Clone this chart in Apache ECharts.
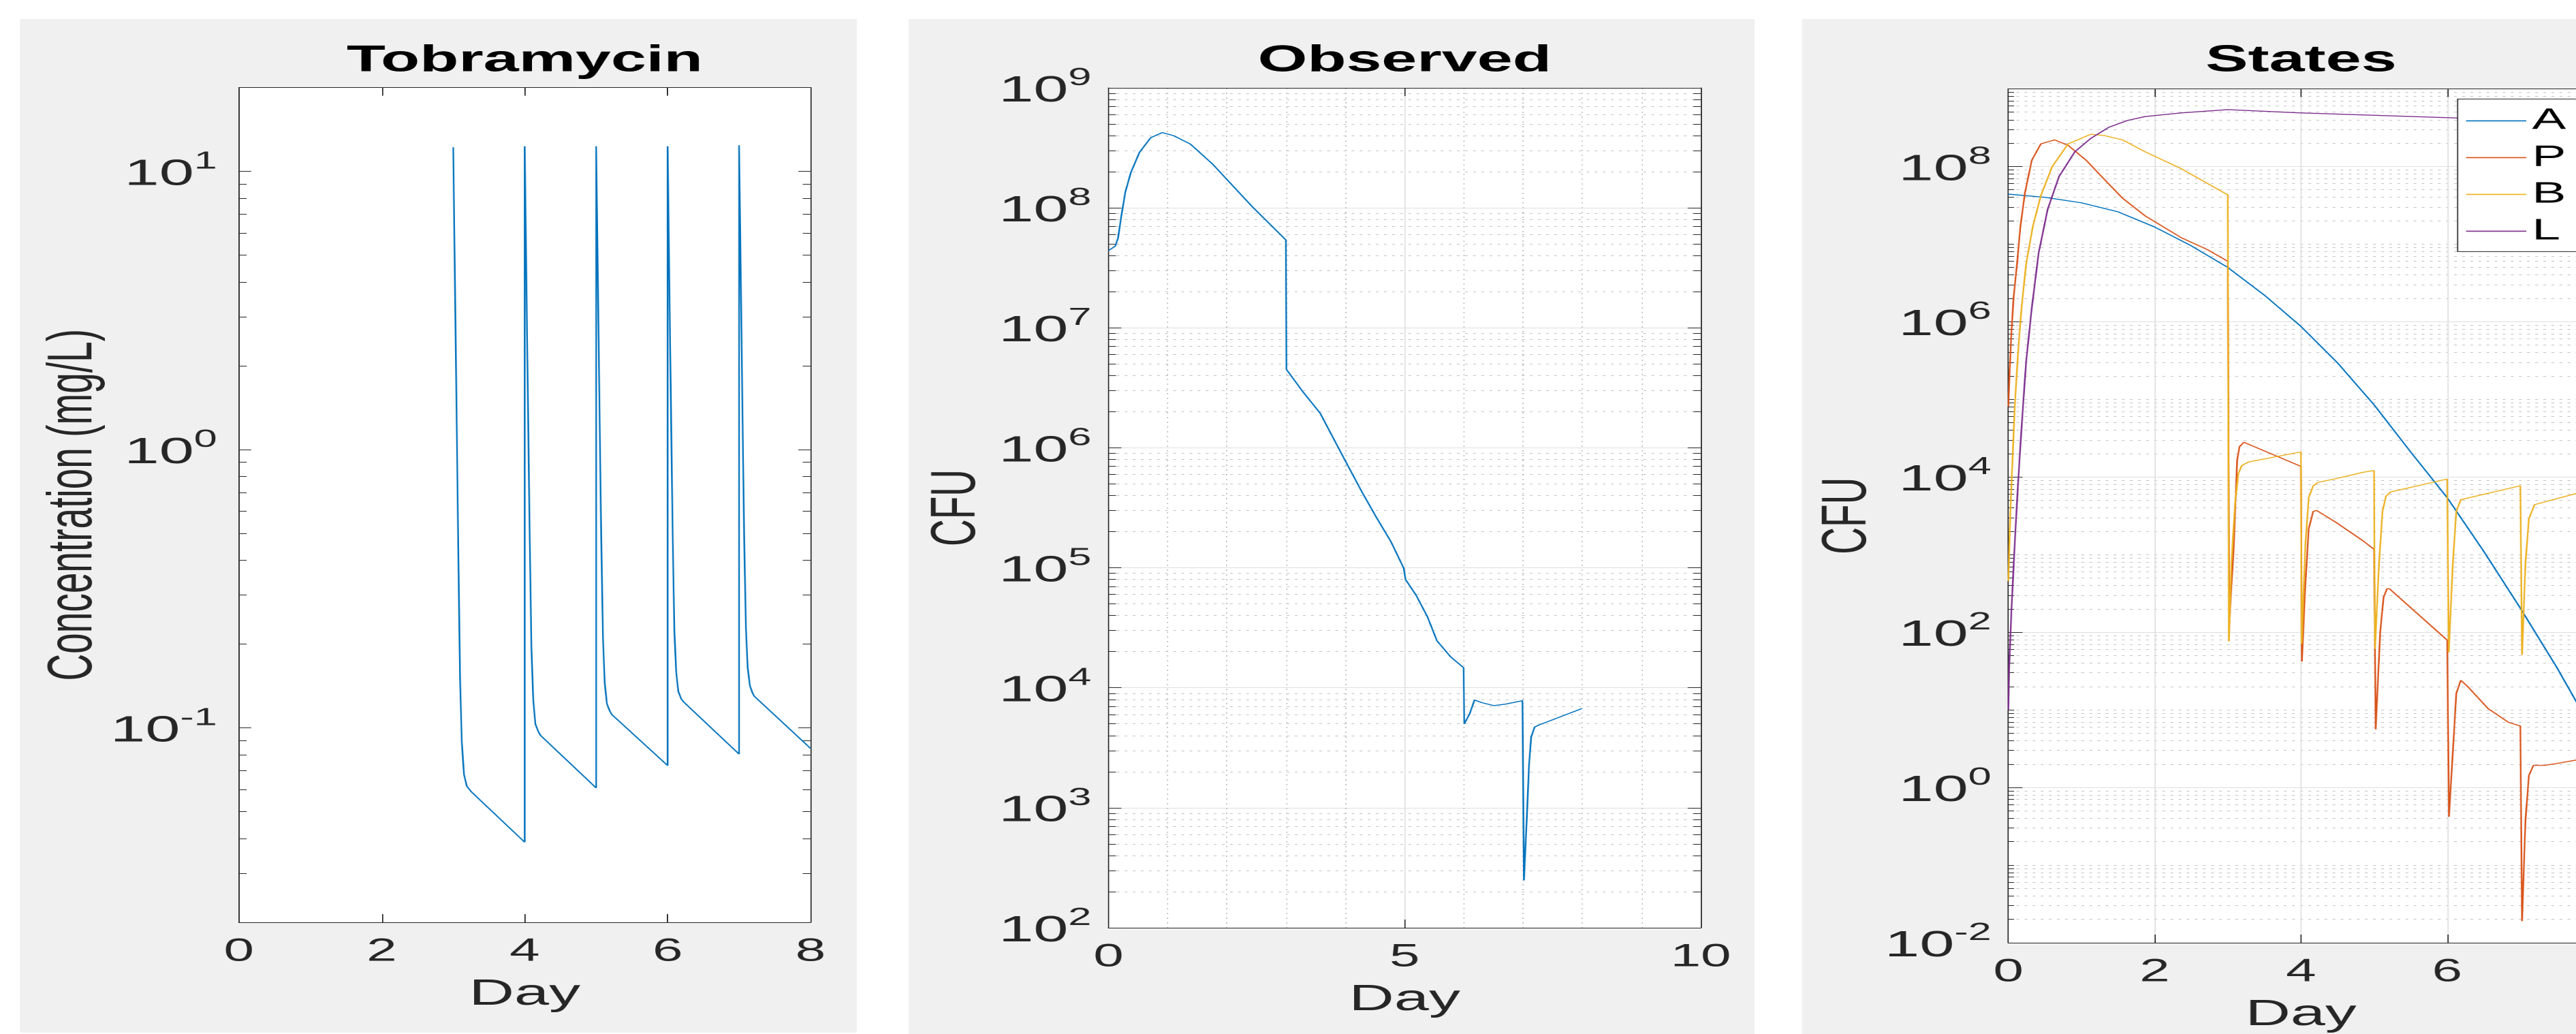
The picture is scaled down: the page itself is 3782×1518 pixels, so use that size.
<!DOCTYPE html>
<html>
<head>
<meta charset="utf-8">
<script src="https://cdn.jsdelivr.net/npm/echarts@6/dist/echarts.min.js"></script>
<style>
html,body{margin:0;padding:0;background:#fff;overflow:hidden;width:3782px;height:1518px;}
#chart{position:absolute;left:0;top:0;width:2225px;height:1518px;transform-origin:0 0;transform:scaleX(1.69978);}
</style>
</head>
<body>
<div id="chart"></div>
<script>
// ---------------- DATA ----------------
// Panel 1: Tobramycin concentration (mg/L) vs day
const tobraDay = [3.00,3.04,3.07,3.095,3.12,3.15,3.19,3.25,4.00,
                  4.00,4.04,4.07,4.095,4.12,4.15,4.19,4.22,5.00,
                  5.00,5.04,5.07,5.095,5.12,5.15,5.19,5.22,6.00,
                  6.00,6.04,6.07,6.095,6.12,6.15,6.19,6.23,7.00,
                  7.00,7.04,7.07,7.095,7.12,7.15,7.185,7.21,8.00];
const tobraConc = [12.2,1.85,0.45,0.15,0.089,0.068,0.0617,0.059,0.0388,
                   12.3,1.9,0.48,0.19,0.125,0.103,0.097,0.094,0.0608,
                   12.3,1.9,0.5,0.21,0.145,0.122,0.115,0.1115,0.0732,
                   12.3,1.9,0.5,0.22,0.158,0.135,0.127,0.1234,0.0804,
                   12.4,1.9,0.5,0.23,0.165,0.142,0.134,0.130,0.0843];

// Panel 2: Observed CFU vs day
const obsDay = [0,0.115,0.162,0.22,0.286,0.38,0.524,0.715,0.906,1.097,1.383,1.764,2.43,2.995,3.005,3.29,3.575,4.004,4.29,4.53,4.767,4.986,5.015,5.195,5.386,5.547,5.777,5.996,6.007,6.045,6.10,6.18,6.314,6.505,6.697,6.99,7.015,7.06,7.10,7.137,7.195,7.27,7.99];
const obsCFU = [4.4e7,4.8e7,5.6e7,8.7e7,1.36e8,1.98e8,2.9e8,3.85e8,4.24e8,4.0e8,3.4e8,2.3e8,1.02e8,5.4e7,4.5e6,2.9e6,1.94e6,7.7e5,4.2e5,2.6e5,1.66e5,9.9e4,8.0e4,5.9e4,3.9e4,2.46e4,1.81e4,1.47e4,5.0e3,4.9e3,6.1e3,7.9e3,7.5e3,7.1e3,7.3e3,7.8e3,248,752,2.24e3,3.9e3,4.7e3,4.9e3,6.7e3];

// Panel 3: States (CFU) vs day
const stateADay = [0,0.5,1.0,1.5,2.0,2.5,3.0,3.5,4.0,4.5,5.0,5.5,6.0,6.5,7.0,7.5,8.0];
const stateA = [4.4e7,4.0e7,3.4e7,2.6e7,1.66e7,9.5e6,5.0e6,2.2e6,8.7e5,2.95e5,8.5e4,2.1e4,5.4e3,1.1e3,204,35,5.2];

const statePDay = [0,0.016,0.04,0.072,0.118,0.165,0.227,0.32,0.444,0.63,0.817,1.064,1.313,1.561,1.872,2.37,2.72,3.0,
                   3.02,3.082,3.128,3.16,3.22,4.0,
                   4.013,4.06,4.106,4.168,4.215,4.479,4.851,5.0,
                   5.022,5.084,5.13,5.177,5.21,6.0,
                   6.024,6.077,6.124,6.186,6.279,6.558,6.837,7.0,
                   7.023,7.07,7.117,7.179,7.334,7.489,7.756,8.0];
const stateP = [8.1e4,2.2e5,6.8e5,2.1e6,5.5e6,1.7e7,4.6e7,1.2e8,1.95e8,2.2e8,1.87e8,1.2e8,6.8e7,3.9e7,2.3e7,1.2e7,8.5e6,6.0e6,
                126,1.3e3,1.66e4,2.45e4,2.8e4,1.37e4,
                42,400,2.15e3,3.6e3,3.7e3,2.6e3,1.5e3,1.17e3,
                5.6,102,282,363,363,79,
                0.42,2.9,16.3,24,20,10.4,6.9,6.2,
                0.019,0.38,1.43,1.93,1.93,2.03,2.25,2.7];

const stateBDay = [0,0.01,0.025,0.056,0.087,0.133,0.18,0.242,0.335,0.444,0.6,0.817,1.127,1.313,1.561,1.872,2.37,3.0,
                   3.015,3.05,3.098,3.144,3.19,3.284,4.0,
                   4.01,4.06,4.106,4.168,4.23,4.479,4.851,5.0,
                   5.012,5.068,5.115,5.161,5.223,6.0,
                   6.021,6.077,6.124,6.186,7.0,
                   7.023,7.07,7.117,7.194,7.756,8.0];
const stateB = [457,1.0e3,3.2e3,1.6e4,8.1e4,4.1e5,1.5e6,5.5e6,1.7e7,4.2e7,1.0e8,1.95e8,2.6e8,2.5e8,2.2e8,1.54e8,9.3e7,4.3e7,
                76,780,4.4e3,1.1e4,1.4e4,1.56e4,2.1e4,
                71,1.3e3,5.4e3,7.7e3,8.5e3,9.5e3,1.15e4,1.21e4,
                61,780,3.6e3,5.6e3,6.4e3,9.4e3,
                55,780,3.6e3,5.1e3,7.7e3,
                51,780,2.9e3,4.4e3,6.1e3,6.9e3];

const stateLDay = [0,0.01,0.04,0.087,0.133,0.18,0.242,0.32,0.413,0.537,0.692,0.91,1.127,1.375,1.623,1.872,2.37,3.0,3.98,6.16,8.0];
const stateL = [10,34,174,1.4e3,8.5e3,4.3e4,3.0e5,1.5e6,7.6e6,2.8e7,7.4e7,1.55e8,2.3e8,3.2e8,3.9e8,4.4e8,4.9e8,5.4e8,4.9e8,4.2e8,3.6e8];

const stateNames = ['A','P','B','L'];
const stateColors = ['#0072BD','#D95319','#EDB120','#7E2F8E'];

// Axis ticks / labels
const tobraYLabels = [0.1, 1, 10];
const obsYLabels = [1e2,1e3,1e4,1e5,1e6,1e7,1e8,1e9];
const statesYLabels = [1e-2,1,1e2,1e4,1e6,1e8];
const statesOddDecades = [1e-1,1e1,1e3,1e5,1e7,1e9];

const titles = ['Tobramycin','Observed','States'];
const yNames = ['Concentration (mg/L)','CFU','CFU'];
const xName = 'Day';

// ---------------- HELPERS ----------------
const FONT = '"Liberation Sans", Arial, Helvetica, sans-serif';
const AX = '#262626';
const MAJOR_GRID = '#dfdfdf';
const MINOR_GRID = '#c2c2c2';

function zip(xs, ys){ return xs.map((x,i)=>[x, ys[i]]); }
function minorTicks(minExp, maxExp, lo, hi){
  const out = [];
  for (let e = minExp; e <= maxExp; e++) {
    for (let m = 2; m <= 9; m++) {
      const v = parseFloat((m * Math.pow(10, e)).toPrecision(6));
      if (v >= lo * 0.9999 && v <= hi * 1.0001) out.push(v);
    }
  }
  return out;
}
function supFmt(v){
  const e = Math.round(Math.log10(v));
  return '{b|10}{s|' + e + '}';
}

function xAxes(gi, min, max, interval, grid, minorGrid){
  const line = { show: true, onZero: false, lineStyle: { color: AX, width: 1 } };
  const tick = { show: true, inside: true, length: 12, lineStyle: { color: AX, width: 1 } };
  return [
    { gridIndex: gi, type: 'value', min, max, interval, position: 'bottom',
      axisLine: line, axisTick: tick,
      axisLabel: { fontSize: 47, margin: 20, color: AX, fontFamily: FONT },
      name: xName, nameLocation: 'middle', nameGap: 79,
      nameTextStyle: { fontSize: 54, color: AX, fontFamily: FONT },
      splitLine: { show: grid, lineStyle: { color: MAJOR_GRID, width: 1 } },
      minorTick: { show: false, splitNumber: 5 },
      minorSplitLine: { show: minorGrid, lineStyle: { color: MINOR_GRID, width: 1, type: [2, 5] } } },
    { gridIndex: gi, type: 'value', min, max, interval, position: 'top',
      axisLine: line, axisTick: tick, axisLabel: { show: false },
      splitLine: { show: false } }
  ];
}

function yAxes(gi, min, max, major, labels, minor, o){
  const tickStyle = { color: AX, width: 1 };
  return [
    { gridIndex: gi, type: 'log', logBase: 10, min, max, position: 'left',
      axisLine: { show: true, lineStyle: { color: AX, width: 1 } },
      axisTick: { show: true, inside: true, length: o.majLen, customValues: major, lineStyle: tickStyle },
      axisLabel: { show: true, customValues: labels, margin: o.labelMargin, formatter: supFmt,
        rich: {
          b: { fontSize: 54, fontFamily: FONT, color: AX, padding: [10, 0, 0, 0] },
          s: { fontSize: 36, fontFamily: FONT, color: AX, verticalAlign: 'top' }
        } },
      splitLine: { show: o.grid, lineStyle: { color: MAJOR_GRID, width: 1 } },
      name: o.name, nameLocation: 'middle', nameGap: o.nameGap,
      nameTextStyle: { fontSize: 55, color: AX, fontFamily: FONT } },
    { gridIndex: gi, type: 'log', logBase: 10, min, max, position: 'left',
      axisLine: { show: false },
      axisTick: { show: true, inside: true, length: o.minLen, customValues: minor, lineStyle: tickStyle },
      axisLabel: { show: false },
      splitLine: { show: o.grid, lineStyle: { color: MINOR_GRID, width: 1, type: [2.4, 4.6] } } },
    { gridIndex: gi, type: 'log', logBase: 10, min, max, position: 'right',
      axisLine: { show: true, lineStyle: { color: AX, width: 1 } },
      axisTick: { show: true, inside: true, length: o.majLen, customValues: major, lineStyle: tickStyle },
      axisLabel: { show: false }, splitLine: { show: false } },
    { gridIndex: gi, type: 'log', logBase: 10, min, max, position: 'right',
      axisLine: { show: false },
      axisTick: { show: true, inside: true, length: o.minLen, customValues: minor, lineStyle: tickStyle },
      axisLabel: { show: false }, splitLine: { show: false } }
  ];
}

function lineSeries(name, xi, yi, data, color){
  return { type: 'line', name, xAxisIndex: xi, yAxisIndex: yi, data,
    showSymbol: false, symbol: 'none', smooth: false, silent: true, animation: false,
    lineStyle: { color, width: 1.4 }, itemStyle: { color } };
}

// ---------------- LAYOUT (unscaled px; page is stretched horizontally) ----------------
const grids = [
  { left: 206.3, top: 128.5, width: 493.8, height: 1225.5 },
  { left: 957.4, top: 129,   width: 511.6, height: 1233 },
  { left: 1734.7, top: 130.4, width: 505.4, height: 1253.6 }
];
const titleX = [453.2, 1213.2, 1987.5];

const xAxis = [].concat(
  xAxes(0, 0, 8, 2, false, false),
  xAxes(1, 0, 10, 5, true, true),
  xAxes(2, 0, 8, 2, true, false)
);
const yAxis = [].concat(
  yAxes(0, 0.02, 20, tobraYLabels, tobraYLabels, minorTicks(-2, 1, 0.02, 20),
        { majLen: 10.6, minLen: 6.8, labelMargin: 18.8, grid: false, name: yNames[0], nameGap: 106 }),
  yAxes(1, 1e2, 1e9, obsYLabels, obsYLabels, minorTicks(2, 8, 1e2, 1e9),
        { majLen: 11.2, minLen: 6.4, labelMargin: 14.7, grid: true, name: yNames[1], nameGap: 103 }),
  yAxes(2, 1e-2, 1e9, statesYLabels, statesYLabels,
        minorTicks(-2, 8, 1e-2, 1e9).concat(statesOddDecades).sort((a,b)=>a-b),
        { majLen: 12.2, minLen: 4.9, labelMargin: 14.7, grid: true, name: yNames[2], nameGap: 111 })
);

const series = [
  lineSeries('Tobramycin', 0, 0, zip(tobraDay, tobraConc), '#0072BD'),
  lineSeries('Observed', 2, 4, zip(obsDay, obsCFU), '#0072BD'),
  lineSeries(stateNames[0], 4, 8, zip(stateADay, stateA), stateColors[0]),
  lineSeries(stateNames[1], 4, 8, zip(statePDay, stateP), stateColors[1]),
  lineSeries(stateNames[2], 4, 8, zip(stateBDay, stateB), stateColors[2]),
  lineSeries(stateNames[3], 4, 8, zip(stateLDay, stateL), stateColors[3])
];

const option = {
  animation: false,
  backgroundColor: 'transparent',
  graphic: [
    { type: 'rect', z: -100, silent: true, shape: { x: 17.1, y: 28, width: 723, height: 1488 }, style: { fill: '#f0f0f0' } },
    { type: 'rect', z: -100, silent: true, shape: { x: 784.7, y: 28, width: 730.9, height: 1490 }, style: { fill: '#f0f0f0' } },
    { type: 'rect', z: -100, silent: true, shape: { x: 1556.5, y: 28, width: 700, height: 1490 }, style: { fill: '#f0f0f0' } }
  ],
  title: titles.map((t, i) => ({
    text: t, left: titleX[i], top: 62, textAlign: 'center', padding: 0,
    textStyle: { fontSize: 55, fontWeight: 'bold', color: '#000', fontFamily: FONT }
  })),
  grid: grids.map(g => Object.assign({ show: true, backgroundColor: '#ffffff', borderWidth: 0,
    containLabel: false, outerBoundsMode: 'none' }, g)),
  legend: {
    data: stateNames, orient: 'vertical', left: 2122.7, top: 145.4,
    icon: 'rect', itemWidth: 52, itemHeight: 1.6, itemGap: 10, padding: [10, 60, 8, 7.3],
    backgroundColor: '#ffffff', borderColor: '#262626', borderWidth: 1, borderRadius: 0,
    selectedMode: false,
    textStyle: { fontSize: 44, color: '#000', fontFamily: FONT, lineHeight: 44 }
  },
  xAxis, yAxis, series
};

const chart = echarts.init(document.getElementById('chart'), null, { renderer: 'canvas', devicePixelRatio: 2 });
chart.setOption(option);
</script>
</body>
</html>
